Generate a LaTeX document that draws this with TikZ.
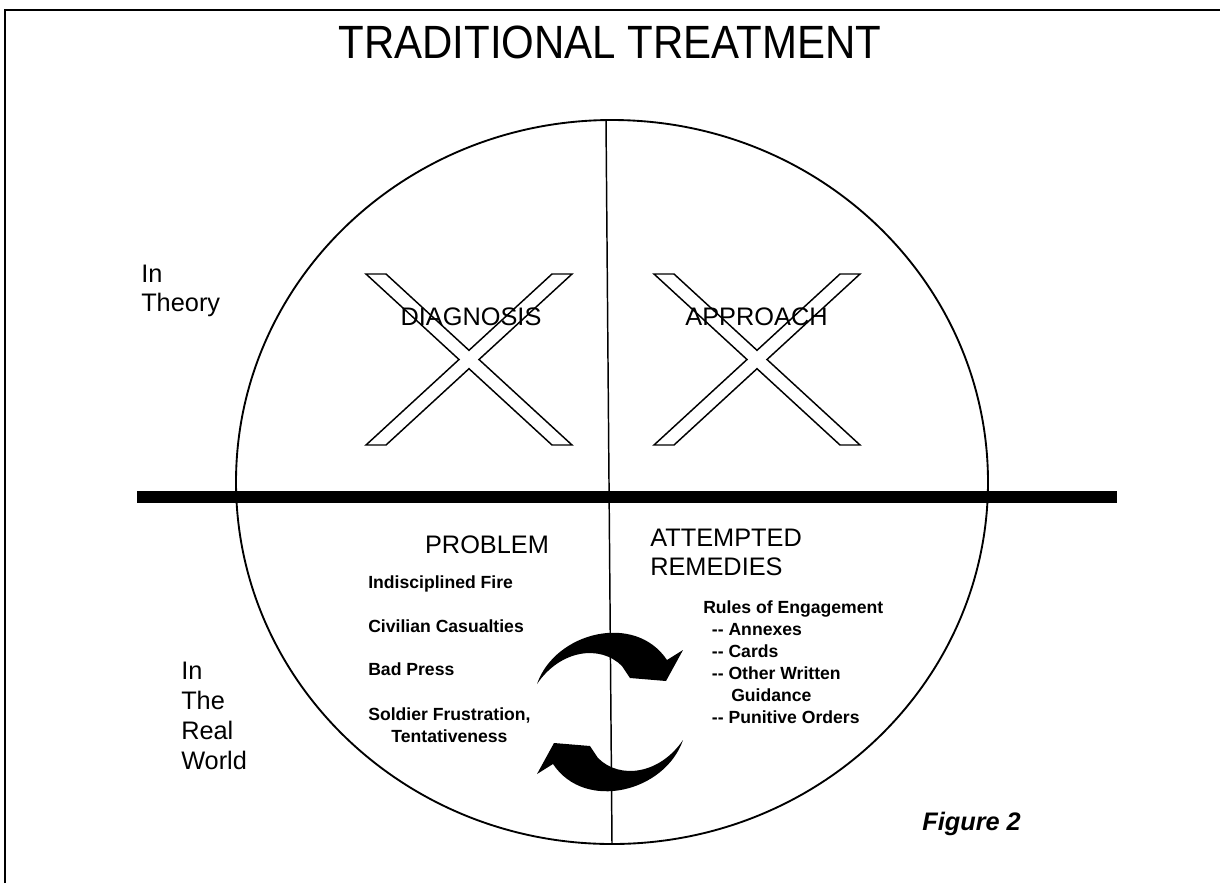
\documentclass[tikz,border=0pt]{standalone}
\usepackage{fontspec}
\setmainfont{Liberation Sans}
\newfontfamily\titlefont[FakeStretch=0.9]{Liberation Sans}

\begin{document}
\begin{tikzpicture}[x=0.75pt,y=0.75pt,yscale=-1,xscale=1,
  frameline/.style={line width=1.8pt},
  ringline/.style={line width=1.4pt},
  thinline/.style={line width=1.1pt},
  headtext/.style={inner sep=0pt,font=\fontsize{19}{21.75}\selectfont},
  listtext/.style={inner sep=0pt,font=\bfseries\fontsize{13.2}{16.5}\selectfont}]
\path[use as bounding box] (0,0) rectangle (1220,883);

%Straight Lines [frame]
\draw [frameline] (5,883) -- (5,10) -- (1220,10) ;

%Shape: Ellipse
\draw [ringline] (612,482) ellipse [x radius=376, y radius=362] ;
%Straight Lines [middle]
\draw [thinline] (606,120) -- (612,844) ;
%Straight Lines [bar]
\draw [line width=9pt] (137,497) -- (1117,497) ;

%Shape: crossed out marks
\foreach \cx in {469,757}
  \draw [thinline,line join=miter,shift={(\cx,359.5)}] (-103,-85.5) -- (-83,-85.5) -- (0,-9.2) -- (83,-85.5) -- (103,-85.5) -- (10,0) -- (103,85.5) -- (83,85.5) -- (0,9.2) -- (-83,85.5) -- (-103,85.5) -- (-10,0) -- cycle ;

%Shape: curved arrows
\foreach \ang in {0,180}
  \fill [shift={(610,712)},rotate=\ang] (-73,-28) .. controls (-55,-80) and (25,-100) .. (57,-52) -- (73,-62) -- (56,-31) -- (20,-34) -- (12,-46) .. controls (-10,-68) and (-50,-62) .. (-73,-28) -- cycle ;

% Text Node
\draw (610,58) node [anchor=base,inner sep=0pt] (title) {\titlefont\fontsize{35}{40}\selectfont TRADITIONAL TREATMENT};
% Text Node
\draw (141,265) node [anchor=north west,headtext,align=left] (theory) {In\\Theory};
% Text Node
\draw (181,662) node [anchor=north west,headtext,align=left,font=\fontsize{19}{22.5}\selectfont] (realworld) {In\\The\\Real\\World};
% Text Node
\draw (471,325) node [anchor=base,headtext] (diagnosis) {DIAGNOSIS};
% Text Node
\draw (756.5,325) node [anchor=base,headtext] (approach) {APPROACH};
% Text Node
\draw (487,553) node [anchor=base,headtext] (problem) {PROBLEM};
% Text Node
\draw (650,529) node [anchor=north west,headtext,align=left] (remedies) {ATTEMPTED\\REMEDIES};

% Text Node
\draw (368,588) node [anchor=base west,listtext] (fire) {Indisciplined Fire};
% Text Node
\draw (368,632) node [anchor=base west,listtext] (civil) {Civilian Casualties};
% Text Node
\draw (368,675) node [anchor=base west,listtext] (press) {Bad Press};
% Text Node
\draw (368,707) node [anchor=north west,listtext,align=center] (soldier) {Soldier Frustration,\\Tentativeness};
% Text Node
\draw (703,600) node [anchor=north west,listtext,align=left] (rules) {Rules of Engagement\\
\hspace*{6.5pt}-{}- Annexes\\
\hspace*{6.5pt}-{}- Cards\\
\hspace*{6.5pt}-{}- Other Written\\
\hspace*{21pt}Guidance\\
\hspace*{6.5pt}-{}- Punitive Orders};

% Text Node
\draw (922,830) node [anchor=base west,inner sep=0pt] (figure) {\bfseries\itshape\fontsize{19}{22}\selectfont Figure 2};

\end{tikzpicture}
\end{document}
